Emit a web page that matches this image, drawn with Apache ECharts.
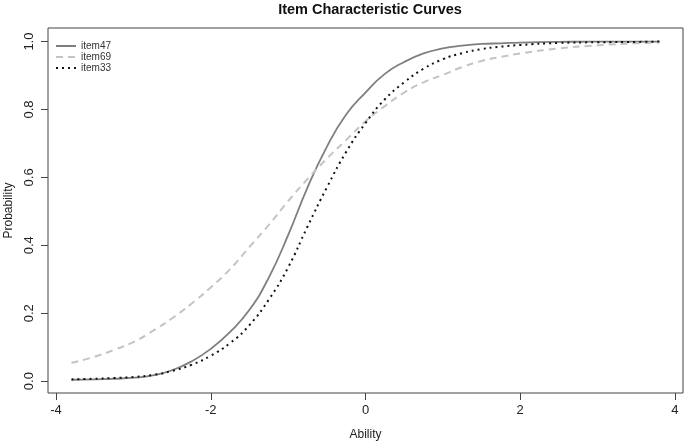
<!DOCTYPE html>
<html>
<head>
<meta charset="utf-8">
<script src="https://cdn.jsdelivr.net/npm/echarts@6/dist/echarts.min.js"></script>
<style>
  html, body { margin: 0; padding: 0; background: #fff; }
  #chart { width: 685px; height: 442px; }
</style>
</head>
<body>
<div id="chart"></div>
<script>
// ability grid and probabilities
const ability = [-3.8, -3.5, -3.25, -3, -2.75, -2.5, -2.25, -2, -1.75, -1.5, -1.25, -1, -0.75, -0.5, -0.25,
  0, 0.25, 0.5, 0.75, 1, 1.25, 1.5, 1.75, 2, 2.5, 3, 3.5, 3.8]
const item47 = [0.004, 0.005, 0.007, 0.01, 0.017, 0.032, 0.058, 0.095, 0.145, 0.21, 0.305, 0.43, 0.57, 0.69, 0.785,
  0.85, 0.905, 0.94, 0.965, 0.98, 0.988, 0.993, 0.995, 0.997, 0.999, 1.0, 1.0, 1.0]
const item69 = [0.054, 0.072, 0.092, 0.115, 0.148, 0.185, 0.228, 0.276, 0.33, 0.395, 0.46, 0.53, 0.595, 0.655, 0.71,
  0.765, 0.81, 0.85, 0.88, 0.902, 0.925, 0.943, 0.955, 0.965, 0.98, 0.989, 0.995, 0.997]
const item33 = [0.005, 0.007, 0.009, 0.012, 0.018, 0.03, 0.048, 0.075, 0.112, 0.165, 0.24, 0.335, 0.455, 0.57, 0.675,
  0.76, 0.83, 0.88, 0.92, 0.948, 0.966, 0.978, 0.985, 0.99, 0.996, 0.998, 0.999, 1.0]

const xTicks = [-4, -2, 0, 2, 4]
const yTicks = [0, 0.2, 0.4, 0.6, 0.8, 1.0]

const font = 'Liberation Sans, Arial, sans-serif'
const ink = '#222'

const pairs = (ys) => ability.map((a, i) => [a, ys[i]])

const chart = echarts.init(document.getElementById('chart'))

chart.setOption({
  animation: false,
  backgroundColor: '#fff',
  title: {
    text: 'Item Characteristic Curves',
    left: 365, top: -3,
    textAlign: 'center',
    textStyle: { fontFamily: font, fontSize: 14.5, fontWeight: 'bold', color: '#111' },
  },
  legend: {
    orient: 'vertical',
    left: 50, top: 36,
    itemWidth: 20, itemHeight: 10, itemGap: 1,
    itemStyle: { opacity: 0 },
    textStyle: { fontFamily: font, fontSize: 10, color: '#333' },
    data: ['item47', 'item69', 'item33'],
  },
  grid: {
    left: 48, right: 2, top: 28, bottom: 49,
    outerBoundsMode: 'none',
    containLabel: false,
    show: true, borderColor: '#444', borderWidth: 1,
  },
  xAxis: {
    type: 'value',
    min: -4.104, max: 4.104,
    name: 'Ability',
    nameLocation: 'middle', nameGap: 36,
    nameTextStyle: { fontFamily: font, fontSize: 12, color: ink },
    axisLine: { show: false, onZero: false },
    axisTick: { show: true, inside: false, length: 7, customValues: xTicks, lineStyle: { color: '#444' } },
    axisLabel: { customValues: xTicks, margin: 11, fontFamily: font, fontSize: 13, color: ink },
    splitLine: { show: false },
  },
  yAxis: {
    type: 'value',
    min: -0.035, max: 1.04,
    name: 'Probability',
    nameLocation: 'middle', nameGap: 33,
    nameTextStyle: { fontFamily: font, fontSize: 12, color: ink },
    axisLine: { show: false, onZero: false },
    axisTick: { show: true, inside: false, length: 7, customValues: yTicks, lineStyle: { color: '#444' } },
    axisLabel: {
      customValues: yTicks, rotate: 90, margin: 12,
      fontFamily: font, fontSize: 13, color: ink,
      formatter: (v) => v.toFixed(1),
    },
    splitLine: { show: false },
  },
  series: [
    {
      name: 'item47', type: 'line', smooth: true, symbol: 'none',
      data: pairs(item47),
      lineStyle: { color: '#7f7f7f', width: 1.8, type: 'solid' },
      itemStyle: { color: '#7f7f7f' },
    },
    {
      name: 'item69', type: 'line', smooth: true, symbol: 'none',
      data: pairs(item69),
      lineStyle: { color: '#c4c4c4', width: 2, type: [7, 5] },
      itemStyle: { color: '#c4c4c4' },
    },
    {
      name: 'item33', type: 'line', smooth: true, symbol: 'none',
      data: pairs(item33),
      lineStyle: { color: '#111', width: 2, type: [2, 4] },
      itemStyle: { color: '#111' },
    },
  ],
})
</script>
</body>
</html>
